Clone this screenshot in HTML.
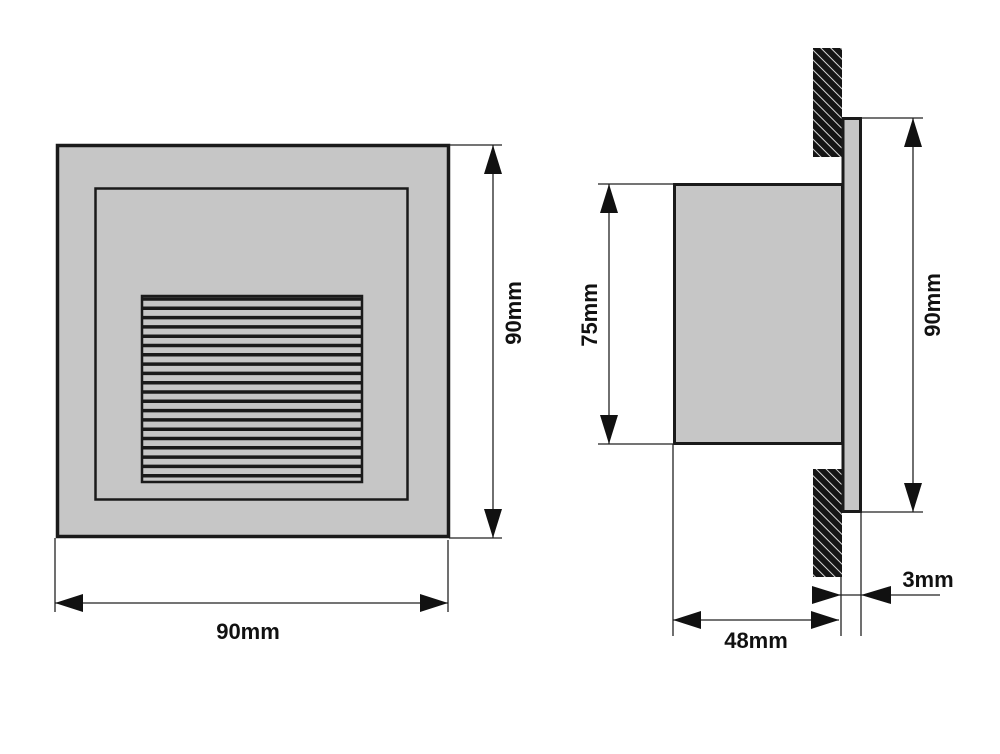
<!DOCTYPE html>
<html><head><meta charset="utf-8"><style>html,body{margin:0;padding:0;background:#fff;}svg{display:block}</style></head>
<body>
<svg width="1000" height="754" viewBox="0 0 1000 754" xmlns="http://www.w3.org/2000/svg">
<defs>
<pattern id="h" width="7" height="7" patternUnits="userSpaceOnUse" patternTransform="rotate(-45)">
<rect width="7" height="7" fill="#151515"/><rect x="0" y="0" width="1" height="7" fill="#d8d8d8"/>
</pattern>
</defs>
<g font-family="Liberation Sans, sans-serif" font-weight="bold" font-size="22" fill="#111">
<!-- front view -->
<rect x="57.5" y="145.5" width="391" height="391" fill="#c6c6c6" stroke="#1a1a1a" stroke-width="3.5"/>
<rect x="95.5" y="188.5" width="312" height="311" fill="none" stroke="#1a1a1a" stroke-width="2.5"/>
<rect x="142" y="296" width="220" height="186" fill="#c6c6c6" stroke="#1a1a1a" stroke-width="2.5"/>
<g stroke="#1a1a1a" stroke-width="3.5">
<line x1="142" y1="299" x2="362" y2="299"/><line x1="142" y1="308.3" x2="362" y2="308.3"/><line x1="142" y1="317.6" x2="362" y2="317.6"/><line x1="142" y1="326.9" x2="362" y2="326.9"/><line x1="142" y1="336.2" x2="362" y2="336.2"/><line x1="142" y1="345.5" x2="362" y2="345.5"/><line x1="142" y1="354.8" x2="362" y2="354.8"/><line x1="142" y1="364.1" x2="362" y2="364.1"/><line x1="142" y1="373.4" x2="362" y2="373.4"/><line x1="142" y1="382.7" x2="362" y2="382.7"/><line x1="142" y1="392" x2="362" y2="392"/><line x1="142" y1="401.3" x2="362" y2="401.3"/><line x1="142" y1="410.6" x2="362" y2="410.6"/><line x1="142" y1="419.9" x2="362" y2="419.9"/><line x1="142" y1="429.2" x2="362" y2="429.2"/><line x1="142" y1="438.5" x2="362" y2="438.5"/><line x1="142" y1="447.8" x2="362" y2="447.8"/><line x1="142" y1="457.1" x2="362" y2="457.1"/><line x1="142" y1="466.4" x2="362" y2="466.4"/><line x1="142" y1="475.7" x2="362" y2="475.7"/>
</g>
<g stroke="#222" stroke-width="1.3">
<line x1="449" y1="145" x2="502" y2="145"/><line x1="449" y1="538" x2="502" y2="538"/>
<line x1="493" y1="145" x2="493" y2="538"/>
<line x1="55" y1="538" x2="55" y2="612"/><line x1="448" y1="540" x2="448" y2="612"/>
<line x1="55" y1="603" x2="448" y2="603"/>
</g>
<g fill="#111">
<polygon points="493,145 484,174 502,174"/><polygon points="493,538 484,509 502,509"/>
<polygon points="55,603 83,594 83,612"/><polygon points="448,603 420,594 420,612"/>
</g>
<text x="248" y="639" text-anchor="middle">90mm</text>
<text transform="translate(521,313) rotate(-90)" text-anchor="middle">90mm</text>

<!-- side view -->
<rect x="813" y="48" width="29" height="109" fill="url(#h)"/>
<rect x="813" y="469" width="29" height="108" fill="url(#h)"/>
<rect x="674.5" y="184.5" width="168" height="259" fill="#c6c6c6" stroke="#1a1a1a" stroke-width="3"/>
<rect x="843" y="118.5" width="17.5" height="393" fill="#c6c6c6" stroke="#1a1a1a" stroke-width="3"/>
<g stroke="#222" stroke-width="1.3">
<line x1="598" y1="184" x2="674" y2="184"/><line x1="598" y1="444" x2="674" y2="444"/>
<line x1="609" y1="184" x2="609" y2="444"/>
<line x1="861" y1="118" x2="923" y2="118"/><line x1="861" y1="512" x2="923" y2="512"/>
<line x1="913" y1="118" x2="913" y2="512"/>
<line x1="673" y1="444" x2="673" y2="636"/><line x1="841" y1="577" x2="841" y2="636"/><line x1="861" y1="512" x2="861" y2="636"/>
<line x1="673" y1="620" x2="839" y2="620"/>
<line x1="839" y1="595" x2="940" y2="595"/>
</g>
<g fill="#111">
<polygon points="609,184 600,213 618,213"/><polygon points="609,444 600,415 618,415"/>
<polygon points="913,118 904,147 922,147"/><polygon points="913,512 904,483 922,483"/>
<polygon points="673,620 701,611 701,629"/><polygon points="839,620 811,611 811,629"/>
<polygon points="841,595 812,586 812,604"/><polygon points="861,595 891,586 891,604"/>
</g>
<text transform="translate(597,315) rotate(-90)" text-anchor="middle">75mm</text>
<text transform="translate(940,305) rotate(-90)" text-anchor="middle">90mm</text>
<text x="756" y="648" text-anchor="middle">48mm</text>
<text x="928" y="587" text-anchor="middle">3mm</text>
</g>
</svg>
</body></html>
